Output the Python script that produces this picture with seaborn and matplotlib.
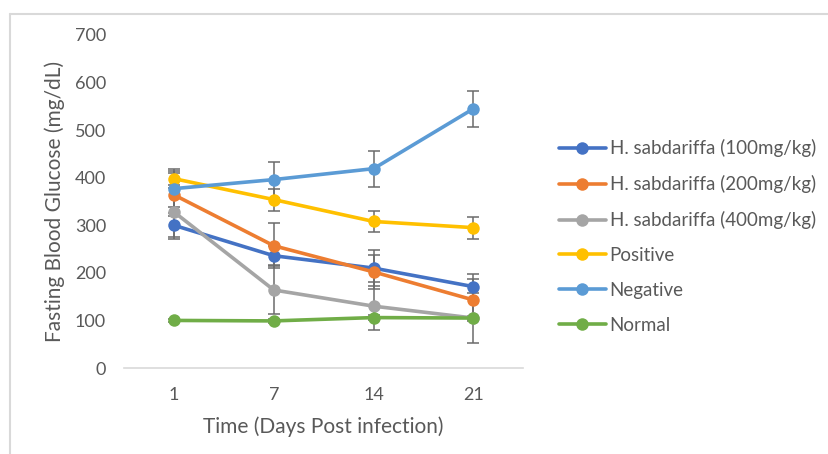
import matplotlib
matplotlib.use("Agg")
import matplotlib.pyplot as plt
import seaborn as sns
import pandas as pd
import numpy as np
from matplotlib.lines import Line2D

days = ["1", "7", "14", "21"]
series_names = ["H. sabdariffa (100mg/kg)", "H. sabdariffa (200mg/kg)",
                "H. sabdariffa (400mg/kg)", "Positive", "Negative", "Normal"]
h100 = [300, 236, 210, 171]
h200 = [364, 257, 202, 143]
h400 = [328, 164, 130, 105]
positive = [398, 354, 308, 295]
negative = [377, 396, 419, 545]
normal = [100, 99, 106, 105]
h100_err = [25, 20, 37, 27]
h200_err = [45, 47, 36, 44]
h400_err = [57, 51, 50, 52]
positive_err = [20, 23, 23, 23]
negative_err = [38, 38, 38, 38]
normal_err = [4, 4, 5, 5]

values = [h100, h200, h400, positive, negative, normal]
errors = [h100_err, h200_err, h400_err, positive_err, negative_err, normal_err]
colors = ["#4472C4", "#ED7D31", "#A5A5A5", "#FFC000", "#5B9BD5", "#70AD47"]

rows = []
for name, vals, errs in zip(series_names, values, errors):
    for i, (d, v, e) in enumerate(zip(days, vals, errs)):
        rows.append({"pos": i, "day": d, "value": v, "err": e, "series": name})
df = pd.DataFrame(rows)

sns.set_theme(style="white")
plt.rcParams["font.family"] = ["Lato", "DejaVu Sans"]

fig = plt.figure(figsize=(8.29, 4.54), dpi=100)
ax = fig.add_axes([0.1496, 0.1894, 0.4817, 0.7336])

# error bars (drawn beneath lines)
for name in series_names:
    sub = df[df["series"] == name]
    ax.errorbar(sub["pos"], sub["value"], yerr=sub["err"], fmt="none",
                ecolor="#6b6b6b", elinewidth=1.1, capsize=4, capthick=1.1, zorder=1)

sns.lineplot(data=df, x="pos", y="value", hue="series", hue_order=series_names,
             palette=colors, marker="o", markersize=9, markeredgewidth=0,
             linewidth=2.6, ax=ax, legend=False, zorder=3, sort=False)

ax.set_xlim(-0.5, 3.5)
ax.set_ylim(0, 700)
ax.set_xticks(range(len(days)))
ax.set_xticklabels(days)
ax.set_yticks(range(0, 701, 100))
ax.tick_params(axis="both", length=0, labelsize=13, labelcolor="#595959")
ax.tick_params(axis="y", pad=13)
ax.tick_params(axis="x", pad=14)
for s in ["top", "right", "left"]:
    ax.spines[s].set_visible(False)
ax.spines["bottom"].set_color("#d9d9d9")
ax.spines["bottom"].set_linewidth(1.2)
ax.set_xlabel("Time (Days Post infection)", fontsize=15, color="#595959", labelpad=9)
ax.set_ylabel("Fasting Blood Glucose (mg/dL)", fontsize=15, color="#595959", labelpad=7)

handles = [Line2D([0], [0], color=c, lw=2.6, marker="o", markersize=9, markeredgewidth=0)
           for c in colors]
leg = fig.legend(handles, series_names, loc="center left", bbox_to_anchor=(0.654, 0.479),
                 frameon=False, fontsize=13.5, labelspacing=0.95, handlelength=2.5,
                 handletextpad=0.2)
for t in leg.get_texts():
    t.set_color("#595959")

# outer chart frame (light grey border)
fig.add_artist(Line2D([10 / 829, 10 / 829], [0, 1 - 14 / 454], transform=fig.transFigure,
                      color="#d9d9d9", lw=1.5))
fig.add_artist(Line2D([10 / 829, 1], [1 - 14 / 454, 1 - 14 / 454], transform=fig.transFigure,
                      color="#d9d9d9", lw=1.5))

fig.savefig("out.png", dpi=100)
